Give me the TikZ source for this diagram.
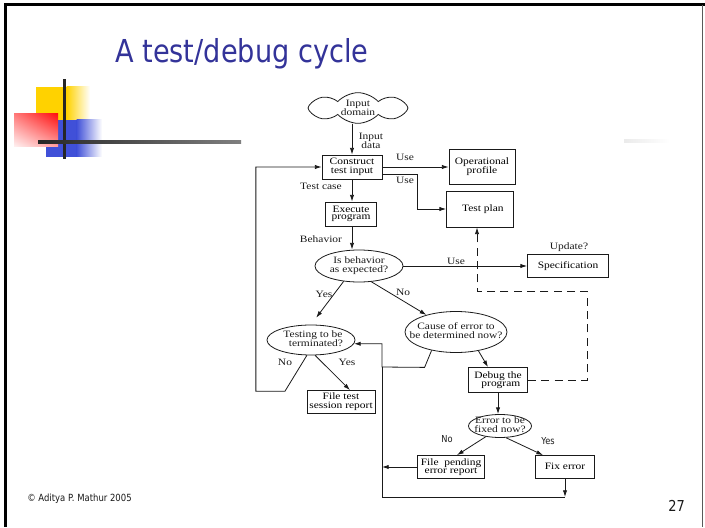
\documentclass[tikz,border=0pt]{standalone}
\usepackage{fontspec}
\setmainfont{Liberation Serif}
\newfontfamily\slidesans{DejaVu Sans}
\usetikzlibrary{arrows.meta,shapes.geometric,shapes.symbols,shadings,calc}
\definecolor{titleblue}{HTML}{333399}
\definecolor{ink}{HTML}{1A1A1A}
\definecolor{decoyellow}{HTML}{FFD200}
\definecolor{decoblue}{HTML}{4050D8}
\definecolor{decored}{HTML}{FF1010}
% flowchart text: Times-like, slightly squat, tight leading
\newcommand\fl[1]{\scalebox{1}[0.85]{\fontsize{8.6}{7}\selectfont\begin{tabular}{@{}c@{}}#1\end{tabular}}}
% slide text: narrow humanist sans
\newcommand\slidetxt[2]{\scalebox{0.86}[1]{\slidesans\fontsize{#1}{#1}\selectfont #2}}
\begin{document}
\begin{tikzpicture}[x=0.75pt,y=-0.75pt,
  line/.style={draw=ink, line width=0.6pt},
  arr/.style={line, -{Latex[length=5pt,width=3.2pt]}},
  dasharr/.style={arr, dash pattern=on 6pt off 4pt},
  box/.style={line, rectangle, inner sep=0pt},
  ell/.style={line, ellipse, inner sep=0pt},
  lab/.style={inner sep=0pt, text=ink},
]
% page and frame
\fill[white] (0,0) rectangle (705,527);
\useasboundingbox (0,0) rectangle (705,527);
\fill[black] (4,3) rectangle (705,6);
\fill[black] (4,3) rectangle (6.5,527);
\draw[black!65, line width=0.75pt] (702.5,5) -- (702.5,527);

% corner ornament
\fill[decoyellow] (36,87) rectangle (67,125);
\shade[left color=decoyellow, right color=white] (66.5,87) rectangle (90,125);
\fill[decoblue] (46,120) rectangle (77,157);
\shade[left color=decoblue, right color=white] (76.5,120) rectangle (102,157);
\shade[upper left=decored!55, upper right=decored, lower left=decored!5, lower right=decored!40]
  (14,114) rectangle (58,147);
\fill[black!85] (62.5,79) rectangle (65.5,159);
\shade[left color=black!85, right color=black!50] (38,140.5) rectangle (241,143.5);
\shade[left color=black!8, right color=white] (624,140) rectangle (670,142.5);

% title and footer
\node[anchor=base west, inner sep=0, text=titleblue] (title) at (115,63)
  {\slidetxt{23.7}{A test/debug cycle}};
\node[anchor=base west, inner sep=0, text=ink] (copy) at (27,501.5)
  {\slidetxt{7.4}{© Aditya P. Mathur 2005}};
\node[anchor=base east, inner sep=0, text=ink] (pageno) at (685,511)
  {\slidetxt{11.3}{27}};

% shapes
\node[line, cloud, cloud puffs=8, cloud puff arc=95, aspect=3.4,
      minimum width=75pt, minimum height=23pt, inner sep=0pt] (dom) at (358,108) {};
\node[lab] at (358,109) {\fl{Input\\domain}};

\node[box, minimum width=45pt, minimum height=18pt] (construct) at (352,167) {\fl{Construct\\test input}};
\node[box, minimum width=49.5pt, minimum height=26.25pt] (oper) at (482,167) {\fl{Operational\\profile}};
\node[box, minimum width=50.25pt, minimum height=27pt] (testplan) at (480,209) {\fl{\ \ Test plan}};
\node[box, minimum width=38.25pt, minimum height=18pt] (execute) at (351,214) {\fl{Execute\\program}};
\node[ell, minimum width=66pt, minimum height=24pt] (behav) at (359,266) {};
\node[lab] at (359,266) {\fl{Is behavior\\as expected?}};
\node[box, minimum width=60.75pt, minimum height=17.25pt] (spec) at (568,266) {\fl{Specification}};
\node[ell, minimum width=66pt, minimum height=22.5pt] (testing) at (311,340) {};
\node[lab] at (313,340) {\fl{Testing to be\\\ \ terminated?}};
\node[ell, minimum width=76.5pt, minimum height=30.75pt] (cause) at (456,332) {};
\node[lab] at (456,332) {\fl{Cause of error to\\be determined now?}};
\node[box, minimum width=51pt, minimum height=17.25pt] (filetest) at (341,402) {\fl{File test\\session report}};
\node[box, minimum width=44.25pt, minimum height=18.75pt] (debug) at (498,380) {\fl{Debug the\\\ \ program}};
\node[ell, minimum width=47.25pt, minimum height=17.25pt] (errfix) at (500,426) {};
\node[lab] at (500,426) {\fl{Error to be\\fixed now?}};
\node[box, minimum width=50.25pt, minimum height=17.25pt] (filepend) at (451,467) {\fl{File\ \ pending\\error report}};
\node[box, minimum width=44.25pt, minimum height=17.25pt] (fixerr) at (565,467) {\fl{Fix error}};

% junction points of the return paths
\coordinate (vl) at (382,367);
\coordinate (fixbot) at (565,497);

% connectors
\draw[arr] (construct.north |- dom.south) -- (construct.north);
\draw[arr] (construct.east) -- (oper.west);
\draw[arr] ([yshift=-5.25pt]construct.east) -- ++(35,0) |- (testplan.west);
\draw[arr] (construct.south) -- (construct.south |- execute.north);
\draw[arr] (construct.south |- execute.south) -- (construct.south |- behav.north);
\draw[arr] (behav.east) -- (spec.west);
\draw[arr, shorten >=6.5pt] (behav.225) -- (testing.north);
\draw[arr] (behav.-52) -- (cause.150);
\draw[arr] (testing.255) -- ++(-22,36) -- ++(-29,0) |- (construct.west);
\draw[arr] (testing.285) -- ([xshift=6.75pt]filetest.north);
\draw[arr] (cause.-40) -- ([xshift=-7.5pt]debug.north);
\draw[arr] (cause.217) -- ++(-7,17) -- (vl) |- (testing.-5);
\draw[line] (vl) -- (382,497) -- (fixbot);
\draw[arr] (fixerr.south) -- (fixbot);
\draw[arr] (filepend.west) -- (filepend.west -| vl);
\draw[arr] (debug.south) -- (debug.south |- errfix.north);
\draw[arr] (errfix.217) -- ([xshift=4.5pt]filepend.north);
\draw[arr] (errfix.-63) -- ([xshift=-16.5pt]fixerr.north);
\draw[dasharr] (debug.east) -| (587,291) -| ([xshift=-2.25pt]testplan.south);

% connector labels
\node[lab] at (371,142) {\fl{Input\\data}};
\node[lab] at (405,159) {\fl{Use}};
\node[lab] at (405,181) {\fl{Use}};
\node[lab] at (321,187) {\fl{Test case}};
\node[lab] at (321,240) {\fl{Behavior}};
\node[lab] at (456,262) {\fl{Use}};
\node[lab] at (569,247) {\fl{Update?}};
\node[lab] at (324,295) {\fl{Yes}};
\node[lab] at (403,293) {\fl{No}};
\node[lab] at (285,363) {\fl{No}};
\node[lab] at (347,363) {\fl{Yes}};
\node[lab] at (447,439) {\slidetxt{7.2}{No}};
\node[lab] at (548,441) {\slidetxt{7.2}{Yes}};
\end{tikzpicture}
\end{document}
